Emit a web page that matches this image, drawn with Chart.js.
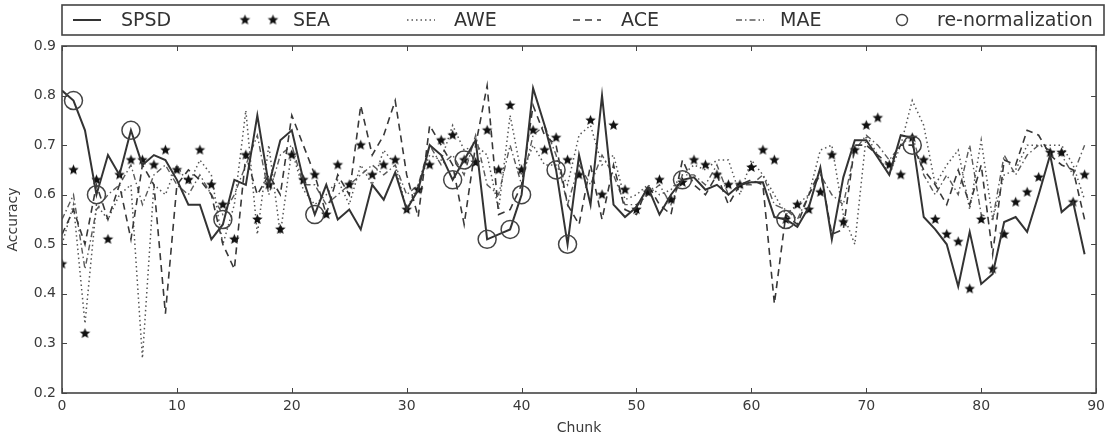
<!DOCTYPE html>
<html>
<head>
<meta charset="utf-8">
<script src="https://cdn.jsdelivr.net/npm/chart.js@4.4.1/dist/chart.umd.min.js"></script>
<style>
  html, body { margin: 0; padding: 0; background: #fff; }
  #wrap { width: 1110px; height: 437px; }
</style>
</head>
<body>
<div id="wrap"><canvas id="chart" width="1110" height="437"></canvas></div>
<script>
// Chunk index along the x axis
const chunks = [0,1,2,3,4,5,6,7,8,9,10,11,12,13,14,15,16,17,18,19,20,21,22,23,24,25,26,27,28,29,
  30,31,32,33,34,35,36,37,38,39,40,41,42,43,44,45,46,47,48,49,50,51,52,53,54,55,56,57,58,59,
  60,61,62,63,64,65,66,67,68,69,70,71,72,73,74,75,76,77,78,79,80,81,82,83,84,85,86,87,88,89];

// Accuracy per chunk for each method
const spsd = [0.81,0.79,0.73,0.60,0.68,0.64,0.73,0.66,0.68,0.67,0.63,0.58,0.58,0.51,0.54,0.63,0.62,0.76,0.62,0.71,
  0.73,0.63,0.56,0.62,0.55,0.57,0.53,0.62,0.59,0.645,0.57,0.61,0.70,0.68,0.63,0.67,0.71,0.51,0.52,0.53,
  0.60,0.815,0.74,0.65,0.50,0.68,0.58,0.80,0.58,0.555,0.575,0.615,0.56,0.60,0.63,0.635,0.61,0.62,0.60,0.62,
  0.625,0.625,0.555,0.55,0.535,0.575,0.655,0.51,0.635,0.71,0.71,0.675,0.64,0.72,0.715,0.555,0.53,0.50,0.415,0.525,
  0.42,0.44,0.545,0.555,0.525,0.60,0.68,0.565,0.585,0.48];

const sea = [0.46,0.65,0.32,0.63,0.51,0.64,0.67,0.67,0.66,0.69,0.65,0.63,0.69,0.62,0.58,0.51,0.68,0.55,0.62,0.53,
  0.68,0.63,0.64,0.56,0.66,0.62,0.70,0.64,0.66,0.67,0.57,0.61,0.66,0.71,0.72,0.67,0.665,0.73,0.65,0.78,
  0.65,0.73,0.69,0.715,0.67,0.64,0.75,0.60,0.74,0.61,0.57,0.605,0.63,0.59,0.625,0.67,0.66,0.64,0.62,0.62,
  0.655,0.69,0.67,0.55,0.58,0.57,0.605,0.68,0.545,0.69,0.74,0.755,0.66,0.64,0.715,0.67,0.55,0.52,0.505,0.41,
  0.55,0.45,0.52,0.585,0.605,0.635,0.685,0.685,0.585,0.64];

const awe = [0.50,0.58,0.34,0.58,0.55,0.60,0.62,0.27,0.62,0.60,0.66,0.62,0.67,0.64,0.50,0.58,0.77,0.52,0.70,0.52,
  0.69,0.61,0.58,0.60,0.63,0.58,0.66,0.62,0.69,0.66,0.57,0.62,0.68,0.67,0.74,0.69,0.70,0.68,0.57,0.76,
  0.64,0.70,0.66,0.66,0.62,0.72,0.74,0.66,0.68,0.59,0.60,0.62,0.60,0.61,0.64,0.66,0.65,0.67,0.67,0.60,
  0.67,0.64,0.60,0.56,0.58,0.60,0.69,0.70,0.56,0.50,0.72,0.68,0.64,0.70,0.79,0.74,0.62,0.66,0.69,0.57,
  0.71,0.55,0.64,0.65,0.70,0.70,0.70,0.70,0.66,0.59];

const ace = [0.52,0.57,0.50,0.62,0.55,0.62,0.51,0.66,0.62,0.36,0.62,0.65,0.63,0.60,0.50,0.45,0.68,0.60,0.64,0.60,
  0.76,0.70,0.64,0.56,0.64,0.60,0.78,0.68,0.72,0.79,0.64,0.555,0.74,0.70,0.66,0.54,0.70,0.82,0.56,0.57,
  0.62,0.78,0.72,0.70,0.58,0.54,0.66,0.55,0.66,0.57,0.56,0.62,0.58,0.56,0.67,0.62,0.60,0.64,0.58,0.62,
  0.63,0.62,0.38,0.56,0.54,0.60,0.65,0.52,0.53,0.70,0.70,0.68,0.66,0.70,0.70,0.65,0.62,0.58,0.65,0.58,
  0.66,0.48,0.67,0.66,0.73,0.72,0.68,0.66,0.65,0.55];

const mae = [0.55,0.60,0.45,0.57,0.60,0.62,0.66,0.58,0.64,0.66,0.62,0.60,0.64,0.60,0.56,0.60,0.66,0.72,0.60,0.68,
  0.70,0.62,0.62,0.58,0.60,0.62,0.64,0.66,0.64,0.66,0.60,0.62,0.70,0.66,0.68,0.64,0.72,0.62,0.60,0.70,
  0.62,0.72,0.74,0.68,0.58,0.66,0.62,0.68,0.64,0.58,0.58,0.60,0.62,0.58,0.64,0.64,0.62,0.66,0.60,0.62,
  0.62,0.64,0.58,0.57,0.55,0.60,0.64,0.60,0.58,0.69,0.72,0.70,0.67,0.70,0.72,0.64,0.60,0.64,0.60,0.70,
  0.56,0.55,0.68,0.64,0.68,0.70,0.69,0.68,0.64,0.70];

// Chunks where SPSD re-normalized, and the accuracy at those chunks
const renormChunks = [1,3,6,14,22,34,35,37,39,40,43,44,54,63,74];
const renormAcc = [0.79,0.60,0.73,0.55,0.56,0.63,0.67,0.51,0.53,0.60,0.65,0.50,0.63,0.55,0.70];

// Axis ticks
const xTicks = [0,10,20,30,40,50,60,70,80,90];
const yTicks = [0.2,0.3,0.4,0.5,0.6,0.7,0.8,0.9];

const FONT = "'DejaVu Sans', sans-serif";
const INK = '#3a3a3a';

function pairs(xs, ys) { return xs.map((x, i) => ({ x: x, y: ys[i] })); }

// filled five-point star used as the SEA marker
function starSprite(r, color) {
  const s = Math.ceil(r * 2 + 2);
  const c = document.createElement('canvas');
  c.width = s; c.height = s;
  const g = c.getContext('2d');
  g.fillStyle = color;
  g.beginPath();
  for (let i = 0; i < 10; i++) {
    const rad = i % 2 ? r * 0.45 : r;
    const a = -Math.PI / 2 + i * Math.PI / 5;
    g.lineTo(s / 2 + rad * Math.cos(a), s / 2 + rad * Math.sin(a));
  }
  g.closePath();
  g.fill();
  return c;
}
const star = starSprite(5.5, '#111');

// frame, inward tick marks and the boxed legend
const decor = {
  id: 'decor',
  afterDatasetsDraw(chart) {
    const { ctx, chartArea: a, scales } = chart;
    ctx.save();
    ctx.strokeStyle = '#444';
    ctx.lineWidth = 1.6;
    ctx.setLineDash([]);
    ctx.strokeRect(a.left, a.top, a.right - a.left, a.bottom - a.top);
    ctx.lineWidth = 1;
    ctx.beginPath();
    scales.x.ticks.forEach(t => {
      const px = Math.round(scales.x.getPixelForValue(t.value)) + 0.5;
      ctx.moveTo(px, a.bottom); ctx.lineTo(px, a.bottom - 5);
      ctx.moveTo(px, a.top); ctx.lineTo(px, a.top + 5);
    });
    scales.y.ticks.forEach(t => {
      const py = Math.round(scales.y.getPixelForValue(t.value)) + 0.5;
      ctx.moveTo(a.left, py); ctx.lineTo(a.left + 5, py);
      ctx.moveTo(a.right, py); ctx.lineTo(a.right - 5, py);
    });
    ctx.stroke();
    ctx.restore();
  },
  afterDraw(chart) {
    const { ctx } = chart;
    const ds = chart.data.datasets;
    const box = { left: 62, top: 5, right: 1104, bottom: 35 };
    const cy = (box.top + box.bottom) / 2;
    ctx.save();
    ctx.fillStyle = '#fff';
    ctx.fillRect(box.left, box.top, box.right - box.left, box.bottom - box.top);
    ctx.strokeStyle = '#444';
    ctx.lineWidth = 1.6;
    ctx.strokeRect(box.left, box.top, box.right - box.left, box.bottom - box.top);
    const slots = [[73, 121], [245, 293], [407, 454], [573, 621], [736, 780], [902, 937]];
    ds.forEach((d, i) => {
      const [sx, tx] = slots[i];
      ctx.save();
      if (d.showLine === false && d.pointStyle === star) {
        ctx.drawImage(star, sx - star.width / 2, cy - star.height / 2);
        ctx.drawImage(star, sx + 28 - star.width / 2, cy - star.height / 2);
      } else if (d.showLine === false) {
        ctx.strokeStyle = d.pointBorderColor;
        ctx.lineWidth = 1.4;
        ctx.beginPath();
        ctx.arc(sx, cy, 5.5, 0, Math.PI * 2);
        ctx.stroke();
      } else {
        ctx.strokeStyle = d.borderColor;
        ctx.lineWidth = d.borderWidth;
        ctx.setLineDash(d.borderDash || []);
        ctx.beginPath();
        ctx.moveTo(sx, cy); ctx.lineTo(sx + 28, cy);
        ctx.stroke();
      }
      ctx.restore();
      ctx.fillStyle = '#333';
      ctx.font = '19px ' + FONT;
      ctx.textBaseline = 'middle';
      ctx.textAlign = 'left';
      ctx.fillText(d.label, tx, cy + 1);
    });
    ctx.restore();
  }
};

const lineBase = { pointRadius: 0, fill: false, tension: 0, spanGaps: true };

new Chart(document.getElementById('chart'), {
  type: 'line',
  data: {
    datasets: [
      Object.assign({ label: 'SPSD', data: pairs(chunks, spsd), borderColor: '#333', borderWidth: 2, order: 1 }, lineBase),
      { label: 'SEA', data: pairs(chunks, sea), showLine: false, pointStyle: star, pointRadius: 5.5, order: 2 },
      Object.assign({ label: 'AWE', data: pairs(chunks, awe), borderColor: '#555', borderWidth: 1.5, borderDash: [1.5, 3], order: 4 }, lineBase),
      Object.assign({ label: 'ACE', data: pairs(chunks, ace), borderColor: '#383838', borderWidth: 1.6, borderDash: [7, 5], order: 3 }, lineBase),
      Object.assign({ label: 'MAE', data: pairs(chunks, mae), borderColor: '#5a5a5a', borderWidth: 1.4, borderDash: [6, 3, 1.5, 3], order: 5 }, lineBase),
      { label: 're-normalization', data: pairs(renormChunks, renormAcc), showLine: false, pointStyle: 'circle',
        pointRadius: 9, pointBorderWidth: 1.5, pointBorderColor: '#444', pointBackgroundColor: 'rgba(0,0,0,0)', order: 0 }
    ]
  },
  options: {
    responsive: false,
    animation: false,
    devicePixelRatio: 1,
    layout: { padding: { left: 0, top: 46, right: 8, bottom: 0 } },
    plugins: { legend: { display: false }, tooltip: { enabled: false } },
    scales: {
      x: {
        type: 'linear', min: 0, max: 90,
        afterBuildTicks(s) { s.ticks = xTicks.map(v => ({ value: v })); },
        afterFit(s) { s.height = 44; },
        grid: { display: false, drawTicks: false },
        border: { display: false },
        ticks: { padding: 5, color: INK, font: { family: FONT, size: 14 }, maxRotation: 0, autoSkip: false },
        title: { display: true, text: 'Chunk', color: INK, font: { family: FONT, size: 14 }, padding: { top: 0, bottom: 0 } }
      },
      y: {
        type: 'linear', min: 0.2, max: 0.9,
        afterBuildTicks(s) { s.ticks = yTicks.map(v => ({ value: v })); },
        afterFit(s) { s.width = 62; },
        grid: { display: false, drawTicks: false },
        border: { display: false },
        ticks: { padding: 6, color: INK, font: { family: FONT, size: 14 }, callback: v => Number(v).toFixed(1) },
        title: { display: true, text: 'Accuracy', color: INK, font: { family: FONT, size: 14 }, padding: { top: 5, bottom: 0 } }
      }
    }
  },
  plugins: [decor]
});
</script>
</body>
</html>
